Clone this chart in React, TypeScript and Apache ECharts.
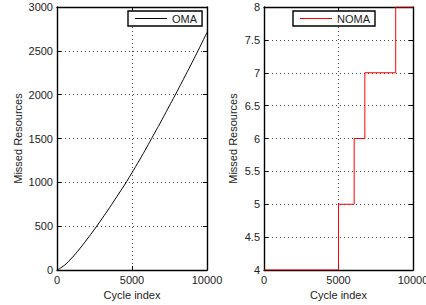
import React, { useEffect, useRef } from "react";
import * as echarts from "echarts";

const omaCycles = [0, 500, 1000, 1500, 2000, 2500, 3000, 3500, 4000, 4500, 5000, 5500, 6000, 6500, 7000, 7500, 8000, 8500, 9000, 9500, 10000];
const omaMissed = [0, 55, 140, 240, 350, 465, 585, 710, 840, 970, 1110, 1255, 1405, 1560, 1715, 1875, 2035, 2200, 2365, 2535, 2710];

const nomaCycles = [0, 5000, 6050, 6770, 8840, 10000];
const nomaMissed = [4, 5, 6, 7, 8, 8];

const xTicksInterval = 5000;
const leftYRange = [0, 3000, 500];
const rightYRange = [4, 8, 0.5];

const FONT = "Liberation Sans, Arial, Helvetica, sans-serif";
const TXT = "#222";

export default function App() {
  const ref = useRef<HTMLDivElement>(null);
  useEffect(() => {
    if (!ref.current) return;
    const chart = echarts.init(ref.current, null, { renderer: "svg" });
    const grids = [
      { left: 57, top: 7, width: 150, height: 263, outerBoundsMode: "none", containLabel: false },
      { left: 264, top: 7, width: 149, height: 263, outerBoundsMode: "none", containLabel: false },
    ];
    const lineStyle = { color: "#000", width: 1.4 };
    const tickStyle = { color: "#000", width: 1 };
    const gridLine = { show: true, lineStyle: { color: "#444", type: [1, 3] as any, width: 1 } };
    const fmt = (v: number) => String(v);
    const mkX = (gi: number, pos: "bottom" | "top") => ({
      type: "value",
      gridIndex: gi,
      position: pos,
      min: 0,
      max: 10000,
      interval: xTicksInterval,
      name: pos === "bottom" ? "Cycle index" : "",
      nameLocation: "middle",
      nameGap: 17,
      nameTextStyle: { fontFamily: FONT, fontSize: 11, color: TXT },
      axisLine: { show: true, onZero: false, lineStyle },
      axisTick: { show: true, inside: true, length: 4, lineStyle: tickStyle },
      axisLabel: {
        show: pos === "bottom",
        fontFamily: FONT,
        fontSize: 11,
        color: TXT,
        margin: 4,
        formatter: fmt,
      },
      splitLine: pos === "bottom" ? gridLine : { show: false },
    });
    const mkY = (gi: number, pos: "left" | "right", r: number[], gap: number) => ({
      type: "value",
      gridIndex: gi,
      position: pos,
      min: r[0],
      max: r[1],
      interval: r[2],
      name: pos === "left" ? "Missed Resources" : "",
      nameLocation: "middle",
      nameGap: gap,
      nameTextStyle: { fontFamily: FONT, fontSize: 11, color: TXT },
      axisLine: { show: true, onZero: false, lineStyle },
      axisTick: { show: true, inside: true, length: 4, lineStyle: tickStyle },
      axisLabel: {
        show: pos === "left",
        fontFamily: FONT,
        fontSize: 11,
        color: TXT,
        margin: 4,
        formatter: fmt,
      },
      splitLine: pos === "left" ? gridLine : { show: false },
    });
    const legendBase = {
      orient: "horizontal",
      backgroundColor: "#fff",
      borderColor: "#000",
      borderWidth: 1.4,
      borderRadius: 0,
      padding: [2, 5, 2, 7],
      icon: "rect",
      itemWidth: 32,
      itemHeight: 1,
      itemGap: 5,
      textStyle: { fontFamily: FONT, fontSize: 11, color: TXT },
    };
    chart.setOption({
      animation: false,
      backgroundColor: "#fff",
      grid: grids,
      xAxis: [mkX(0, "bottom"), mkX(1, "bottom"), mkX(0, "top"), mkX(1, "top")],
      yAxis: [
        mkY(0, "left", leftYRange, 34),
        mkY(1, "left", rightYRange, 26),
        mkY(0, "right", leftYRange, 0),
        mkY(1, "right", rightYRange, 0),
      ],
      legend: [
        { ...legendBase, data: ["OMA"], left: 128, top: 11 },
        { ...legendBase, data: ["NOMA"], left: 293, top: 11 },
      ],
      series: [
        {
          name: "OMA",
          type: "line",
          xAxisIndex: 0,
          yAxisIndex: 0,
          symbol: "none",
          smooth: true,
          color: "#000",
          lineStyle: { color: "#000", width: 1 },
          data: omaCycles.map((c, i) => [c, omaMissed[i]]),
        },
        {
          name: "NOMA",
          type: "line",
          xAxisIndex: 1,
          yAxisIndex: 1,
          symbol: "none",
          step: "end",
          color: "#ff0000",
          lineStyle: { color: "#ff0000", width: 1 },
          data: nomaCycles.map((c, i) => [c, nomaMissed[i]]),
        },
      ],
    } as any);
    return () => chart.dispose();
  }, []);
  return (
    <div
      ref={ref}
      style={{ position: "fixed", left: 0, top: 0, width: 426, height: 305, background: "#fff" }}
    />
  );
}
